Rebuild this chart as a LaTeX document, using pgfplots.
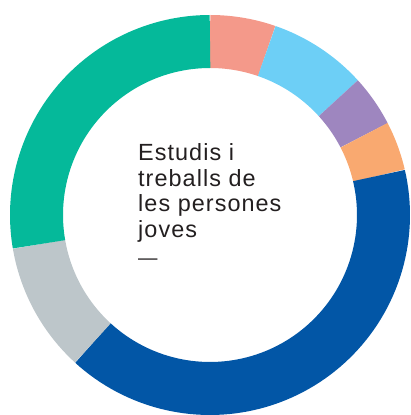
\documentclass[border=0pt]{standalone}
\usepackage{pgfplots}
\pgfplotsset{compat=1.18}
\usepackage{fontspec}
\setmainfont{Liberation Sans}
\newfontfamily\labfont[LetterSpace=4.5]{Liberation Sans}
\definecolor{cSalmon}{HTML}{F4998A}
\definecolor{cLBlue}{HTML}{6DCFF6}
\definecolor{cPurple}{HTML}{9E86BF}
\definecolor{cOrange}{HTML}{F9A970}
\definecolor{cDBlue}{HTML}{0256A6}
\definecolor{cGrey}{HTML}{BDC6CA}
\definecolor{cGreen}{HTML}{05B99A}
\definecolor{cText}{HTML}{231F20}
\begin{document}
\begin{tikzpicture}
\begin{axis}[
  scale only axis, width=411bp, height=415bp,
  xmin=-210, xmax=201, ymin=-200, ymax=215,
  hide axis, clip=false,
  every axis plot/.append style={line width=53bp, line cap=butt, line join=round, samples=80, mark=none},
]
\path (rel axis cs:0,0) rectangle (rel axis cs:1,1);
% segments in cumulative percent (clockwise from top)
\addplot[draw=cSalmon, domain=0:5.3]   ({173.5*sin(3.6*x)},{173.5*cos(3.6*x)});
\addplot[draw=cLBlue,  domain=5.3:13.25] ({173.5*sin(3.6*x)},{173.5*cos(3.6*x)});
\addplot[draw=cPurple, domain=13.25:17.4] ({173.5*sin(3.6*x)},{173.5*cos(3.6*x)});
\addplot[draw=cOrange, domain=17.4:21.35] ({173.5*sin(3.6*x)},{173.5*cos(3.6*x)});
\addplot[draw=cDBlue,  domain=21.35:61.8] ({173.5*sin(3.6*x)},{173.5*cos(3.6*x)});
\addplot[draw=cGrey,   domain=61.8:72.3] ({173.5*sin(3.6*x)},{173.5*cos(3.6*x)});
\addplot[draw=cGreen,  domain=72.3:100] ({173.5*sin(3.6*x)},{173.5*cos(3.6*x)});
\begin{scope}[every node/.style={anchor=base west, inner sep=0pt, text=cText, font=\labfont\fontsize{23.5}{25.5}\selectfont}]
\node at (axis cs:-72,54) {Estudis i};
\node at (axis cs:-72,28.5) {treballs de};
\node at (axis cs:-72,3) {les persones};
\node at (axis cs:-72,-22.5) {joves};
\node[font=\labfont\fontsize{19.5}{20}\selectfont] at (axis cs:-72,-49.5) {—};
\end{scope}
\end{axis}
\end{tikzpicture}
\end{document}
